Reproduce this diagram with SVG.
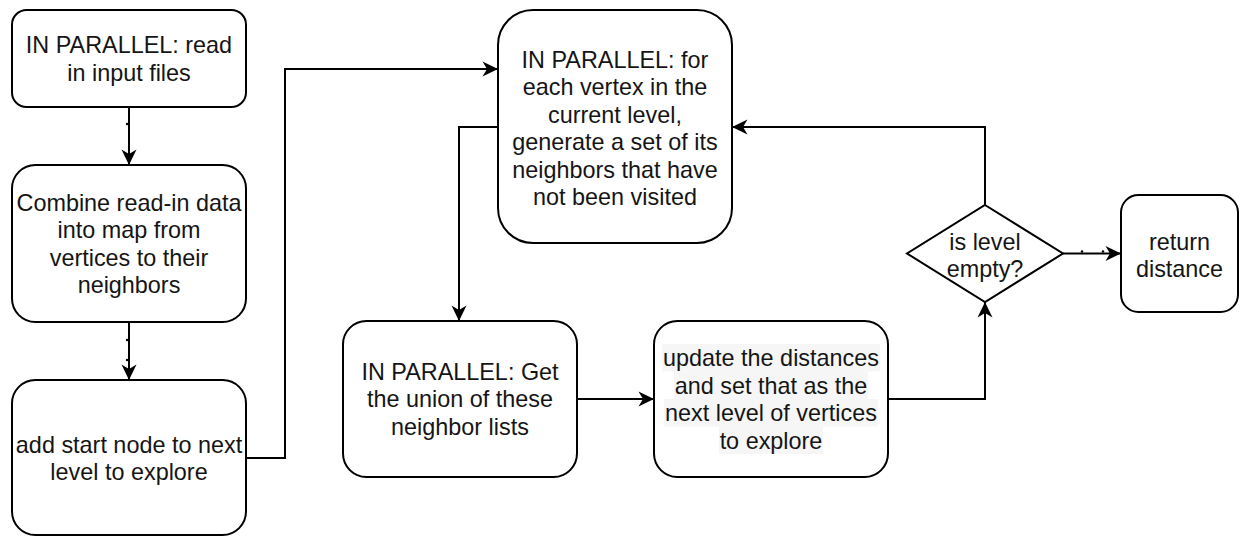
<svg xmlns="http://www.w3.org/2000/svg" width="1258" height="536" viewBox="0 0 1258 536">
  <style>
    .box { fill: #ffffff; stroke: #000000; stroke-width: 2; }
    .lbl { font-family: "Liberation Sans", Arial, Helvetica, sans-serif; font-size: 23.4px; fill: #151515; text-anchor: middle; }
    .edge { fill: none; stroke: #000000; stroke-width: 2; marker-end: url(#arr); }
    .dot { fill: #000000; }
    .hl { fill: #f6f6f6; }
  </style>
  <defs>
    <marker id="arr" viewBox="-17 -9 18 18" refX="0" refY="0" markerWidth="18" markerHeight="18" markerUnits="userSpaceOnUse" orient="auto">
      <path d="M0,0 L-15.5,-7.5 L-11,0 L-15.5,7.5 Z" fill="#000000"/>
    </marker>
  </defs>
  <rect width="1258" height="536" fill="#ffffff"/>

  <g id="connectors">
    <path class="edge" d="M129,107 L129,165"/>
    <path class="edge" d="M129,322 L129,380"/>
    <path class="edge" d="M246,458 L285,458 L285,69 L498,69"/>
    <path class="edge" d="M498,127 L459,127 L459,321"/>
    <path class="edge" d="M577,399 L654,399"/>
    <path class="edge" d="M888,399 L985,399 L985,302"/>
    <path class="edge" d="M985,205 L985,127 L732,127"/>
    <path class="edge" d="M1063,253.5 L1121,253.5"/>
    <circle class="dot" cx="127" cy="124" r="1.2"/>
    <circle class="dot" cx="127" cy="340" r="1.2"/>
    <circle class="dot" cx="127" cy="360" r="1.2"/>
    <circle class="dot" cx="1082" cy="251.5" r="1.2"/>
    <circle class="dot" cx="1103" cy="251.5" r="1.2"/>
  </g>

  <g id="node-read">
    <rect class="box" x="12" y="10" width="234" height="97" rx="14.6" ry="14.6"/>
    <text class="lbl"><tspan x="129" y="53">IN PARALLEL: read</tspan><tspan x="129" y="80.5">in input files</tspan></text>
  </g>

  <g id="node-combine">
    <rect class="box" x="12" y="165" width="234" height="157" rx="23.4" ry="23.4"/>
    <text class="lbl"><tspan x="129" y="210.5">Combine read-in data</tspan><tspan x="129" y="238">into map from</tspan><tspan x="129" y="265.5">vertices to their</tspan><tspan x="129" y="293">neighbors</tspan></text>
  </g>

  <g id="node-start">
    <rect class="box" x="12" y="380" width="234" height="155" rx="23.4" ry="23.4"/>
    <text class="lbl"><tspan x="129" y="452.5">add start node to next</tspan><tspan x="129" y="480">level to explore</tspan></text>
  </g>

  <g id="node-generate">
    <rect class="box" x="498" y="10" width="234" height="233" rx="35" ry="35"/>
    <text class="lbl"><tspan x="615" y="67.5">IN PARALLEL: for</tspan><tspan x="615" y="95">each vertex in the</tspan><tspan x="615" y="122.5">current level,</tspan><tspan x="615" y="150">generate a set of its</tspan><tspan x="615" y="177.5">neighbors that have</tspan><tspan x="615" y="205">not been visited</tspan></text>
  </g>

  <g id="node-union">
    <rect class="box" x="343" y="321" width="234" height="156" rx="23.4" ry="23.4"/>
    <text class="lbl"><tspan x="460" y="379.5">IN PARALLEL: Get</tspan><tspan x="460" y="407">the union of these</tspan><tspan x="460" y="434.5">neighbor lists</tspan></text>
  </g>

  <g id="node-update">
    <rect class="box" x="654" y="321" width="234" height="156" rx="23.4" ry="23.4"/>
    <rect class="hl" x="662" y="344" width="218" height="27.5"/>
    <rect class="hl" x="674" y="371.5" width="194" height="27.5"/>
    <rect class="hl" x="664" y="399" width="214" height="27.5"/>
    <rect class="hl" x="719" y="426.5" width="104" height="27.5"/>
    <text class="lbl"><tspan x="771" y="366">update the distances</tspan><tspan x="771" y="393.5">and set that as the</tspan><tspan x="771" y="421">next level of vertices</tspan><tspan x="771" y="448.5">to explore</tspan></text>
  </g>

  <g id="node-empty">
    <polygon class="box" points="985,205 1063,253.5 985,302 907,253.5"/>
    <text class="lbl"><tspan x="985" y="249.5">is level</tspan><tspan x="985" y="277">empty?</tspan></text>
  </g>

  <g id="node-return">
    <rect class="box" x="1121" y="195" width="117" height="117" rx="17.5" ry="17.5"/>
    <text class="lbl"><tspan x="1179.5" y="249.5">return</tspan><tspan x="1179.5" y="277">distance</tspan></text>
  </g>
</svg>
